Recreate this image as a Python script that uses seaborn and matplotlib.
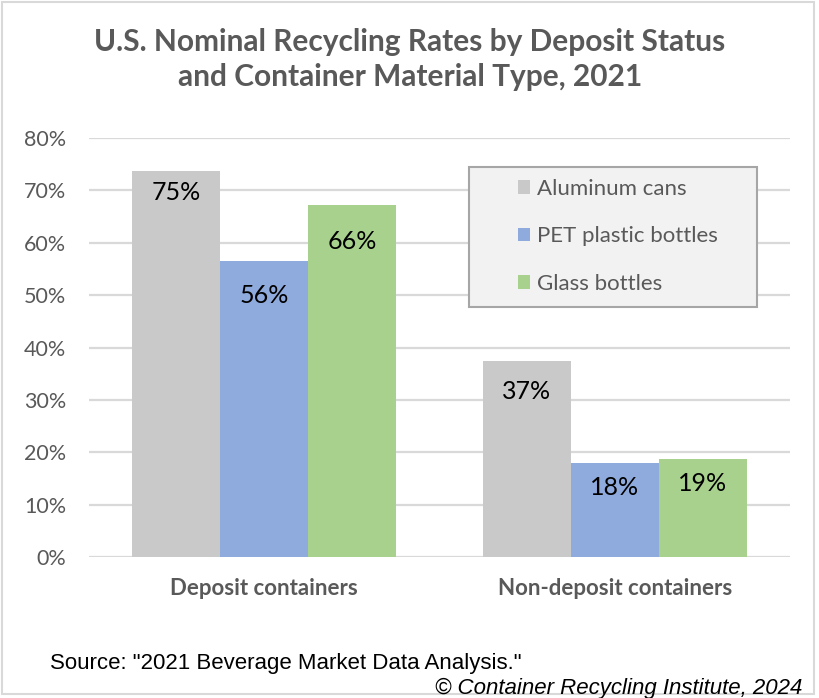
import matplotlib
matplotlib.use("Agg")
import matplotlib.pyplot as plt
from matplotlib.patches import Rectangle
import seaborn as sns
import pandas as pd

# ---- data ----
categories = ["Deposit containers", "Non-deposit containers"]
materials = ["Aluminum cans", "PET plastic bottles", "Glass bottles"]
aluminum = [0.736, 0.374]
pet = [0.565, 0.180]
glass = [0.671, 0.187]
labels_aluminum = ["75%", "37%"]
labels_pet = ["56%", "18%"]
labels_glass = ["66%", "19%"]
y_ticks = [0.0, 0.1, 0.2, 0.3, 0.4, 0.5, 0.6, 0.7, 0.8]
y_tick_labels = ["0%", "10%", "20%", "30%", "40%", "50%", "60%", "70%", "80%"]
title_line1 = "U.S. Nominal Recycling Rates by Deposit Status"
title_line2 = "and Container Material Type, 2021"
source = "Source: \"2021 Beverage Market Data Analysis.\""
credit = "\u00a9 Container Recycling Institute, 2024"

rows = []
for mat, vals in zip(materials, [aluminum, pet, glass]):
    for cat, v in zip(categories, vals):
        rows.append({"category": cat, "material": mat, "rate": v})
df = pd.DataFrame(rows)
label_map = {m: l for m, l in zip(materials, [labels_aluminum, labels_pet, labels_glass])}

# ---- style ----
sns.set_theme(style="white")
plt.rcParams["font.family"] = ["Lato", "DejaVu Sans"]
palette = ["#C9C9C9", "#8FAADC", "#A9D18E"]
TXT = "#595959"
GRID = "#D9D9D9"

W, H, DPI = 820, 698, 100
fig = plt.figure(figsize=(W / DPI, H / DPI), dpi=DPI)
fig.patch.set_facecolor("white")

ax_l, ax_r, ax_b, ax_t = 89, 790, 557.3, 137.7
ax = fig.add_axes([ax_l / W, 1 - ax_b / H, (ax_r - ax_l) / W, (ax_b - ax_t) / H])

sns.barplot(data=df, x="category", y="rate", hue="material", order=categories,
            hue_order=materials, palette=palette, width=0.753, saturation=1,
            edgecolor="none", linewidth=0, errorbar=None, ax=ax, zorder=3, legend=True)

ax.set_xlim(-0.5, 1.5)
ax.set_ylim(0, 0.8)
ax.set_yticks(y_ticks)
ax.set_yticklabels(y_tick_labels)
ax.yaxis.grid(True, color=GRID, linewidth=1.6, zorder=0)
ax.set_axisbelow(True)
for s in ax.spines.values():
    s.set_visible(False)
ax.tick_params(axis="y", length=0, pad=16.5, labelsize=15.5, labelcolor=TXT)
ax.tick_params(axis="x", length=0, pad=15, labelsize=16, labelcolor=TXT)
for t in ax.get_xticklabels():
    t.set_fontweight("bold")
ax.set_xlabel("")
ax.set_ylabel("")

# data labels (inside bars, near top)
label_offsets_px = [[21, 30], [35, 25], [36, 24]]
for i, (container, mat) in enumerate(zip(ax.containers, materials)):
    for j, bar in enumerate(container):
        x = bar.get_x() + bar.get_width() / 2
        y = bar.get_height()
        ax.annotate(label_map[mat][j], (x, y), xytext=(0, -label_offsets_px[i][j] * 72 / DPI),
                    textcoords="offset points", ha="center", va="center",
                    fontsize=18, color="black", zorder=5)

# legend
handles, lbls = ax.get_legend_handles_labels()
ax.get_legend().remove()
lx0, lx1, ly0, ly1 = 469, 757, 167, 307
box = Rectangle(((lx0 - ax_l) / (ax_r - ax_l), (ax_b - ly1) / (ax_b - ax_t)),
                (lx1 - lx0) / (ax_r - ax_l), (ly1 - ly0) / (ax_b - ax_t),
                transform=ax.transAxes, facecolor="#F2F2F2", edgecolor="#A6A6A6",
                linewidth=1.5, zorder=6)
ax.add_patch(box)
leg = ax.legend(handles, lbls, loc="upper left",
                bbox_to_anchor=((518 - ax_l) / (ax_r - ax_l), (ax_b - 179) / (ax_b - ax_t)),
                frameon=False, fontsize=16, handlelength=0.55, handleheight=0.55,
                handletextpad=0.32, labelspacing=1.23, borderpad=0, borderaxespad=0)
leg.set_zorder(7)
for t in leg.get_texts():
    t.set_color(TXT)

# title and footer
fig.text(0.5, 1 - 42 / H, title_line1, ha="center", va="center",
         fontsize=21.5, fontweight="bold", color=TXT)
fig.text(0.5, 1 - 77 / H, title_line2, ha="center", va="center",
         fontsize=21.5, fontweight="bold", color=TXT)
fig.text(50 / W, 1 - 664 / H, source, ha="left", va="center", fontsize=16,
         color="black", family=["Liberation Sans", "DejaVu Sans"])
fig.text(802 / W, 1 - 688 / H, credit, ha="right", va="center", fontsize=16,
         color="black", style="italic", family=["Liberation Sans", "DejaVu Sans"])

# outer border
fig.patches.append(Rectangle((2 / W, 4 / H), 812 / W, 692 / H, transform=fig.transFigure,
                             facecolor="none", edgecolor="#D9D9D9", linewidth=1.5))

fig.savefig("out.png", dpi=DPI)
